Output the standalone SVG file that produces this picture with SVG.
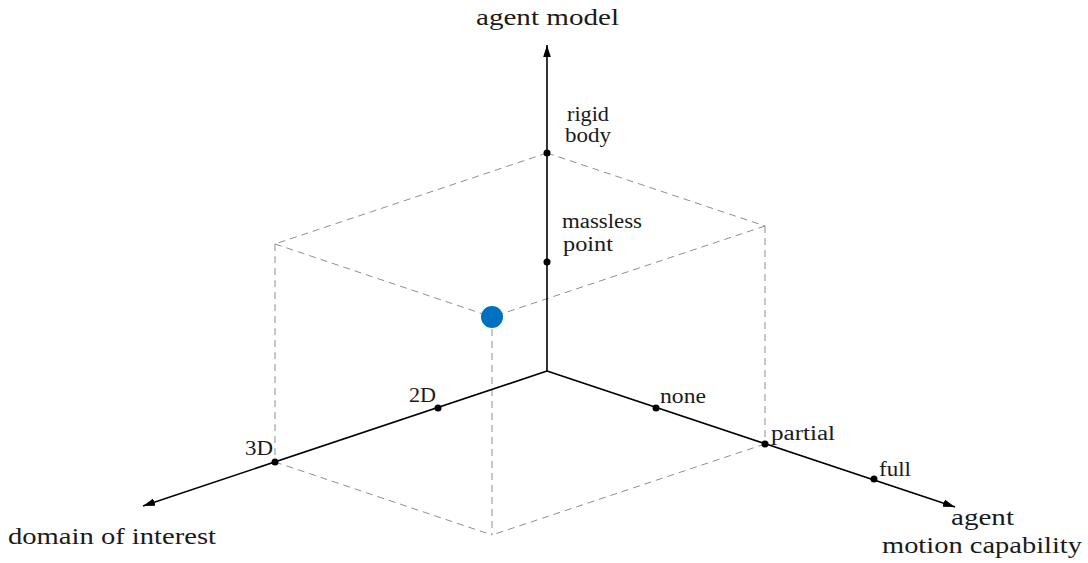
<svg xmlns="http://www.w3.org/2000/svg" width="1088" height="563" viewBox="0 0 1088 563">
  <style>
    text { font-family: "Liberation Serif", "DejaVu Serif", serif; fill: #1a1a1a; }
    .big { font-size: 24px; }
    .small { font-size: 20px; }
    .axis { stroke: #000; stroke-width: 1.6; fill: none; }
    .guide { stroke: #8f8f8f; stroke-width: 1; stroke-dasharray: 7 5; fill: none; }
    .tick { fill: #000; }
  </style>
  <defs>
    <marker id="arrow" markerUnits="userSpaceOnUse" markerWidth="14" markerHeight="10" refX="12" refY="5" orient="auto">
      <path d="M0,1.2 L12,5 L0,8.8 Z" fill="#000"/>
    </marker>
  </defs>

  <!-- dashed guide box -->
  <g id="guides">
    <path class="guide" d="M547,153 L275,244"/>
    <path class="guide" d="M547,153 L765,226"/>
    <path class="guide" d="M275,244 L492,317"/>
    <path class="guide" d="M765,226 L492,317"/>
    <path class="guide" d="M275,244 L275,462"/>
    <path class="guide" d="M765,226 L765,444"/>
    <path class="guide" d="M492,317 L492,535"/>
    <path class="guide" d="M275,462 L492,535"/>
    <path class="guide" d="M765,444 L492,535"/>
  </g>

  <!-- axes -->
  <g id="connectors">
    <path class="axis" d="M547,371 L547,45" marker-end="url(#arrow)"/>
    <path class="axis" d="M547,371 L143,506" marker-end="url(#arrow)"/>
    <path class="axis" d="M547,371 L955,507" marker-end="url(#arrow)"/>
  </g>

  <g id="agent-model-axis">
    <text class="big" x="476" y="25" textLength="143" lengthAdjust="spacingAndGlyphs">agent model</text>
    <g id="rigid-body">
      <circle class="tick" cx="547" cy="153" r="3.5"/>
      <text class="small" x="567" y="121" textLength="42" lengthAdjust="spacingAndGlyphs">rigid</text>
      <text class="small" x="565" y="142" textLength="46" lengthAdjust="spacingAndGlyphs">body</text>
    </g>
    <g id="massless-point">
      <circle class="tick" cx="547" cy="262" r="3.5"/>
      <text class="small" x="562" y="228" textLength="80" lengthAdjust="spacingAndGlyphs">massless</text>
      <text class="small" x="563" y="251" textLength="50" lengthAdjust="spacingAndGlyphs">point</text>
    </g>
  </g>

  <g id="domain-axis">
    <text class="big" x="8" y="544" textLength="208" lengthAdjust="spacingAndGlyphs">domain of interest</text>
    <g id="d2">
      <circle class="tick" cx="438" cy="408" r="3.5"/>
      <text class="small" x="409" y="402" textLength="27" lengthAdjust="spacingAndGlyphs">2D</text>
    </g>
    <g id="d3">
      <circle class="tick" cx="275" cy="462" r="3.5"/>
      <text class="small" x="245" y="455" textLength="28" lengthAdjust="spacingAndGlyphs">3D</text>
    </g>
  </g>

  <g id="motion-axis">
    <text class="big" x="951" y="525" textLength="63" lengthAdjust="spacingAndGlyphs">agent</text>
    <text class="big" x="882" y="553" textLength="200" lengthAdjust="spacingAndGlyphs">motion capability</text>
    <g id="none">
      <circle class="tick" cx="656" cy="408" r="3.5"/>
      <text class="small" x="660" y="403" textLength="46" lengthAdjust="spacingAndGlyphs">none</text>
    </g>
    <g id="partial">
      <circle class="tick" cx="765" cy="444" r="3.5"/>
      <text class="small" x="771" y="440" textLength="64" lengthAdjust="spacingAndGlyphs">partial</text>
    </g>
    <g id="full">
      <circle class="tick" cx="874" cy="479" r="3.5"/>
      <text class="small" x="879" y="476" textLength="32" lengthAdjust="spacingAndGlyphs">full</text>
    </g>
  </g>

  <g id="agent-state">
    <circle cx="492" cy="317" r="11" fill="#0070C0"/>
  </g>
</svg>
